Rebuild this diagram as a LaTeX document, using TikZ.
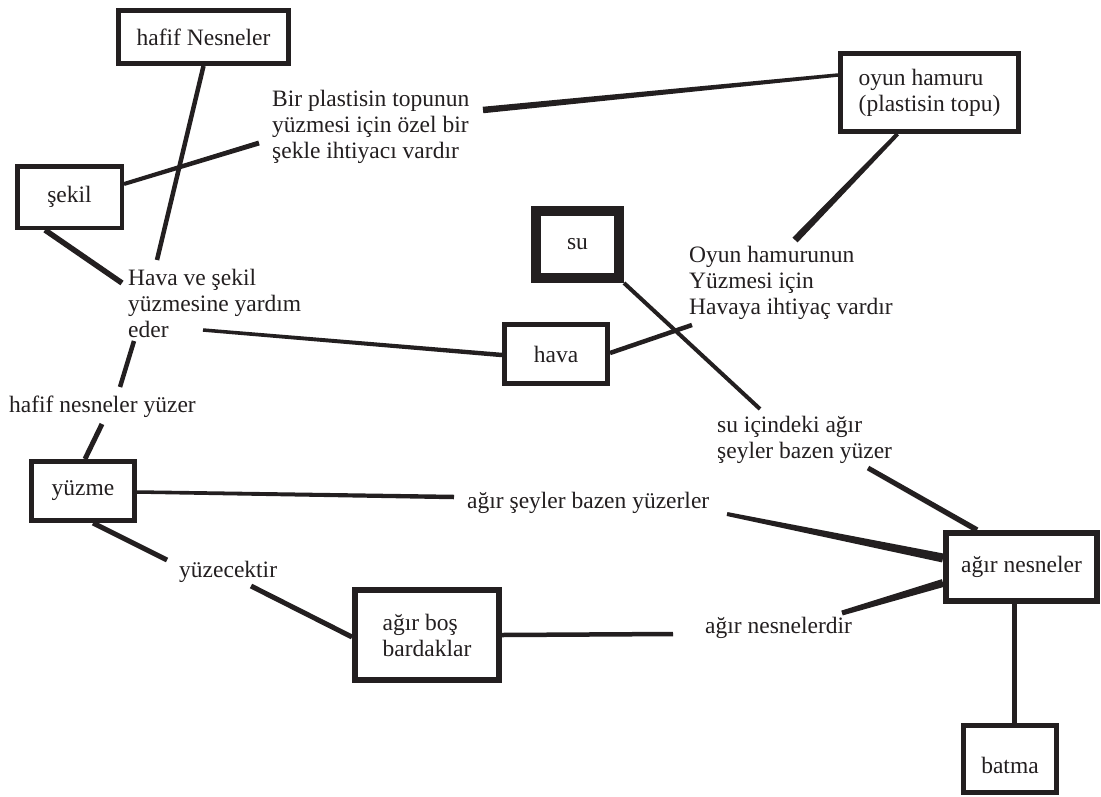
\documentclass[tikz,border=0pt]{standalone}
\usepackage{fontspec}
\setmainfont{Liberation Serif}
\usetikzlibrary{calc}
\definecolor{ink}{RGB}{35,31,32}
\pgfdeclarelayer{paper}
\pgfdeclarelayer{wires}
\pgfsetlayers{paper,wires,main}
% tapered connector: #1 start, #2 end, #3 half width at start, #4 half width at end
\newcommand\taper[4]{\fill[ink] ($(#1)!#3!90:(#2)$) -- ($(#2)!#4!-90:(#1)$) -- ($(#2)!#4!90:(#1)$) -- ($(#1)!#3!-90:(#2)$) -- cycle;}
\begin{document}
\begin{tikzpicture}[x=1pt,y=-1pt,
  box/.style={draw=ink, fill=white, rectangle, inner sep=0pt, text=ink,
    font=\fontsize{23.5}{26}\selectfont},
  phrase/.style={inner sep=0pt, anchor=north west, align=left, text=ink,
    font=\fontsize{23.5}{26}\selectfont}]
\begin{pgfonlayer}{paper}
\fill[white] (0,0) rectangle (1101,796);
\end{pgfonlayer}
\useasboundingbox (0,0) rectangle (1101,796);

% concept boxes
\node[box, line width=5pt, minimum width=170pt, minimum height=53pt] (hafif) at (203.5,37) {hafif Nesneler};
\node[box, line width=4.5pt, minimum width=104.5pt, minimum height=61.5pt] (sekil) at (69.5,197) {şekil};
\node[box, line width=5pt, minimum width=178pt, minimum height=78pt, align=left] (oyun) at (929.5,92.5) {oyun hamuru\\(plastisin topu)};
\node[box, line width=10pt, minimum width=83pt, minimum height=67pt] (su) at (577.5,244.5) {su};
\node[box, line width=5pt, minimum width=103pt, minimum height=59pt] (hava) at (556,354) {hava};
\node[box, line width=5pt, minimum width=103pt, minimum height=59pt] (yuzme) at (83,491) {yüzme};
\node[box, line width=6pt, minimum width=144pt, minimum height=90pt, align=left] (agirbos) at (427,635) {ağır boş\\bardaklar};
\node[box, line width=6pt, minimum width=151pt, minimum height=68pt] (agirnes) at (1021.5,567) {ağır nesneler};
\node[box, line width=5pt, minimum width=93pt, minimum height=67pt] (batma) at (1010,759) {\rule{0pt}{30pt}batma};

% linking phrases
\node[phrase] (bir) at (272,90) {Bir plastisin topunun\\yüzmesi için özel bir\\şekle ihtiyacı vardır};
\node[phrase] (oyunh) at (689,246) {Oyun hamurunun\\Yüzmesi için\\Havaya ihtiyaç vardır};
\node[phrase] (havasekil) at (128,269) {Hava ve şekil\\yüzmesine yardım\\eder};
\node[phrase] (hafifn) at (9,396) {hafif nesneler yüzer};
\node[phrase] (yuzecek) at (179,561) {yüzecektir};
\node[phrase] (seyler) at (467,492) {ağır şeyler bazen yüzerler};
\node[phrase] (suic) at (717,416) {su içindeki ağır\\şeyler bazen yüzer};
\node[phrase] (nesnelerdir) at (705,617) {ağır nesnelerdir};

% attachment points on the boxes
\coordinate (hafif-s) at (hafif.south);
\coordinate (sekil-e) at ([yshift=13pt]sekil.east);
\coordinate (sekil-s) at ([xshift=-24.5pt]sekil.south);
\coordinate (oyun-w) at ([yshift=17.5pt]oyun.west);
\coordinate (oyun-s) at ([xshift=-32pt]oyun.south);
\coordinate (hava-w) at ([yshift=-1pt]hava.west);
\coordinate (hava-e) at ([yshift=1pt]hava.east);
\coordinate (su-se) at (su.south east);
\coordinate (yuzme-n) at ([xshift=2pt]yuzme.north);
\coordinate (yuzme-e) at ([yshift=-1pt]yuzme.east);
\coordinate (yuzme-s) at ([xshift=10pt]yuzme.south);
\coordinate (agirbos-w) at ([yshift=-2pt]agirbos.west);
\coordinate (agirbos-e) at (agirbos.east);
\coordinate (agirnes-n) at ([xshift=-44.5pt]agirnes.north);
\coordinate (agirnes-w1) at ([yshift=9pt]agirnes.west);
\coordinate (agirnes-w2) at ([yshift=-16pt]agirnes.west);
\coordinate (agirnes-s) at ([xshift=-7.5pt]agirnes.south);
\coordinate (batma-n) at ([xshift=4pt]batma.north);

% free ends next to the linking phrases
\coordinate (havasekil-top) at (157,260);
\coordinate (havasekil-left) at (122,283);
\coordinate (havasekil-bot) at (134,341);
\coordinate (havasekil-right) at (203,330);
\coordinate (bir-left) at (259,143);
\coordinate (bir-right) at (483,110);
\coordinate (oyunh-top) at (795,240);
\coordinate (oyunh-left) at (692,325);
\coordinate (suic-top) at (760,409);
\coordinate (suic-bot) at (868,468);
\coordinate (hafifn-top) at (120,387);
\coordinate (hafifn-bot) at (102,424);
\coordinate (seyler-left) at (454,497);
\coordinate (seyler-right) at (727,514);
\coordinate (yuzecek-left) at (167,560);
\coordinate (yuzecek-right) at (251,586);
\coordinate (nesnelerdir-left) at (673,634);
\coordinate (nesnelerdir-right) at (842,613);

\begin{pgfonlayer}{wires}
\taper{hafif-s}{havasekil-top}{2.25pt}{2.25pt}
\taper{sekil-e}{bir-left}{2pt}{2.5pt}
\taper{sekil-s}{havasekil-left}{2.75pt}{2.75pt}
\taper{bir-right}{oyun-w}{3.25pt}{1.75pt}
\taper{oyun-s}{oyunh-top}{2pt}{3.5pt}
\taper{havasekil-right}{hava-w}{1.75pt}{2.25pt}
\taper{hava-e}{oyunh-left}{2.25pt}{2.25pt}
\taper{su-se}{suic-top}{2pt}{2pt}
\taper{suic-bot}{agirnes-n}{2.5pt}{2.75pt}
\taper{havasekil-bot}{hafifn-top}{2.25pt}{2.25pt}
\taper{hafifn-bot}{yuzme-n}{2.5pt}{2.5pt}
\taper{yuzme-e}{seyler-left}{1.75pt}{2.25pt}
\taper{seyler-right}{agirnes-w1}{2pt}{4.5pt}
\taper{yuzme-s}{yuzecek-left}{2.5pt}{2.5pt}
\taper{yuzecek-right}{agirbos-w}{2.5pt}{2.5pt}
\taper{agirbos-e}{nesnelerdir-left}{2.25pt}{2.25pt}
\taper{nesnelerdir-right}{agirnes-w2}{2.5pt}{4pt}
\taper{agirnes-s}{batma-n}{2.5pt}{2.5pt}
\end{pgfonlayer}
\end{tikzpicture}
\end{document}
